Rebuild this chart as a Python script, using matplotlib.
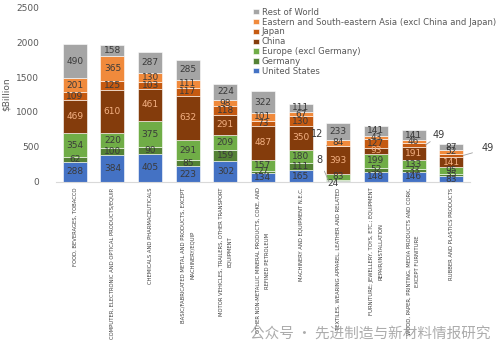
import numpy as np
import matplotlib.pyplot as plt
from matplotlib import font_manager

categories = [
    "FOOD, BEVERAGES, TOBACCO",
    "COMPUTER, ELECTRONIC AND OPTICAL PRODUCTS/EQUIP.",
    "CHEMICALS AND PHARMACEUTICALS",
    "BASIC/FABRICATED METAL AND PRODUCTS, EXCEPT\nMACHINERY/EQUIP",
    "MOTOR VEHICLES, TRAILERS, OTHER TRANSPORT\nEQUIPMENT",
    "OTHER NON-METALLIC MINERAL PRODUCTS, COKE, AND\nREFINED PETROLEUM",
    "MACHINERY AND EQUIPMENT N.E.C.",
    "TEXTILES, WEARING APPAREL, LEATHER AND RELATED",
    "FURNITURE; JEWELLERY, TOYS, ETC.; EQUIPMENT\nREPAIR/INSTALLATION",
    "WOOD, PAPER, PRINTING, MEDIA PRODUCTS AND CORK,\nEXCEPT FURNITURE",
    "RUBBER AND PLASTICS PRODUCTS",
]

united_states = [288, 384, 405, 223, 302, 134, 165, 8, 148, 146, 83]
germany = [62, 100, 90, 85, 159, 27, 111, 24, 52, 33, 35]
europe = [354, 220, 375, 291, 209, 157, 180, 83, 199, 133, 95]
china = [469, 610, 461, 632, 291, 487, 350, 393, 93, 191, 141]
japan = [109, 125, 103, 117, 118, 73, 130, 12, 127, 49, 49]
esea = [201, 365, 130, 111, 98, 101, 67, 84, 43, 46, 52]
rest_of_world = [490, 158, 287, 285, 224, 322, 111, 233, 141, 141, 87]

series = [
    ("United States", united_states, "#4472C4", "#3a3a3a"),
    ("Germany", germany, "#548235", "#3a3a3a"),
    ("Europe (excl Germany)", europe, "#70AD47", "#3a3a3a"),
    ("China", china, "#843C0C", "#F4B183"),
    ("Japan", japan, "#C55A11", "#3a3a3a"),
    ("Eastern and South-eastern Asia (excl China and Japan)", esea, "#F08A3C", "#3a3a3a"),
    ("Rest of World", rest_of_world, "#A5A5A5", "#3a3a3a"),
]

# labels drawn outside the bars with leader lines: (series index, bar index)
callouts = {(0, 7), (4, 7), (1, 7), (4, 9), (4, 10)}

names = {f.name for f in font_manager.fontManager.ttflist}
narrow = "Liberation Sans Narrow" if "Liberation Sans Narrow" in names else "DejaVu Sans"

fig = plt.figure(figsize=(5, 3.56), dpi=100)
ax = fig.add_axes([0.112, 0.489, 0.828, 0.491])

x = np.arange(len(categories))
bottom = np.zeros(len(categories))
handles = []
for si, (name, vals, color, tcol) in enumerate(series):
    vals = np.array(vals, dtype=float)
    bars = ax.bar(x, vals, 0.64, bottom=bottom, color=color, label=name,
                  edgecolor="white", linewidth=0.4)
    handles.append(bars)
    for i, v in enumerate(vals):
        if (si, i) in callouts:
            continue
        ax.text(x[i], bottom[i] + v / 2, f"{int(v)}", ha="center", va="center",
                fontsize=6.5, color=tcol)
    bottom += vals

# callout labels
cum = np.cumsum([np.array(s[1]) for s in series], axis=0)
def mid(si, i):
    lo = cum[si - 1][i] if si > 0 else 0
    return (lo + cum[si][i]) / 2

lc = "#A0A0A0"
ax.annotate("12", xy=(7 - 0.3, mid(4, 7)), xytext=(7 - 0.55, 680), fontsize=7,
            color="#3a3a3a", ha="center", va="center", annotation_clip=False,
            arrowprops=dict(arrowstyle="-", color=lc, lw=0.6, shrinkA=3, shrinkB=0))
ax.annotate("8", xy=(7 - 0.25, 4), xytext=(7 - 0.5, 320), fontsize=7,
            color="#3a3a3a", ha="center", va="center", annotation_clip=False,
            arrowprops=dict(arrowstyle="-", color=lc, lw=0.6, shrinkA=3, shrinkB=0))
ax.text(7 - 0.15, -25, "24", fontsize=6.5, color="#3a3a3a", ha="center", va="center")
ax.annotate("49", xy=(9 + 0.32, mid(4, 9)), xytext=(9 + 0.68, 670), fontsize=7,
            color="#3a3a3a", ha="center", va="center", annotation_clip=False,
            arrowprops=dict(arrowstyle="-", color=lc, lw=0.6, shrinkA=5, shrinkB=0))
ax.annotate("49", xy=(10 + 0.32, mid(4, 10)), xytext=(10 + 0.98, 480), fontsize=7,
            color="#3a3a3a", ha="center", va="center", annotation_clip=False,
            arrowprops=dict(arrowstyle="-", color=lc, lw=0.6, shrinkA=5, shrinkB=0))

ax.set_xlim(-0.5, len(categories) - 0.5)
ax.set_ylim(0, 2500)
ax.set_yticks(np.arange(0, 2501, 500))
ax.tick_params(axis="y", length=0, labelsize=6.5, labelcolor="#595959", pad=12)
ax.tick_params(axis="x", length=0, pad=4)
ax.set_xticks(x)
ax.set_xticklabels(categories, rotation=90, fontsize=4.2, family=narrow,
                   fontstretch="condensed",
                   color="#404040", ha="center", va="top", linespacing=1.9,
                   multialignment="center")
for s in ["top", "right", "left"]:
    ax.spines[s].set_visible(False)
ax.spines["bottom"].set_color("#D9D9D9")
ax.set_ylabel("$Billion", fontsize=6.5, color="#595959", labelpad=4)

leg = fig.legend(handles[::-1], [s[0] for s in series][::-1], loc="upper left",
                 bbox_to_anchor=(0.495, 0.995), frameon=False, fontsize=6.1,
                 handlelength=0.6, handleheight=0.6, handletextpad=0.4,
                 labelspacing=0.1, borderpad=0.2, labelcolor="#595959")

fig.text(0.98, 0.06, "公众号 · 先进制造与新材料情报研究", ha="right", va="center",
         fontsize=10.5, color="#909090", alpha=0.75,
         family=["Noto Sans CJK SC", "DejaVu Sans"])

fig.savefig("out.png", dpi=100)
